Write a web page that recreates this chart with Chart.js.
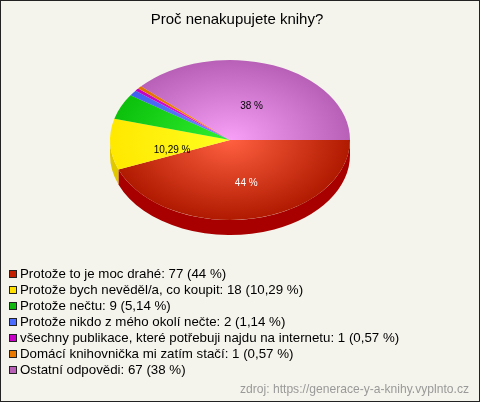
<!DOCTYPE html>
<html>
<head>
<meta charset="utf-8">
<style>
html, body { margin: 0; padding: 0; background: #f5f4ec; }
canvas { display: block; }
</style>
<script src="https://cdn.jsdelivr.net/npm/chart.js@4"></script>
</head>
<body>
<canvas id="knihyChart" width="480" height="402"></canvas>
<script>
const chartTitle = 'Proč nenakupujete knihy?';
const sourceNote = 'zdroj: https://generace-y-a-knihy.vyplnto.cz';
const categories = [
    'Protože to je moc drahé',
    'Protože bych nevěděl/a, co koupit',
    'Protože nečtu',
    'Protože nikdo z mého okolí nečte',
    'všechny publikace, které potřebuji najdu na internetu',
    'Domácí knihovnička mi zatím stačí',
    'Ostatní odpovědi'
];
const answers = [77, 18, 9, 2, 1, 1, 67];
const percentTexts = ['44', '10,29', '5,14', '1,14', '0,57', '0,57', '38'];
const sliceLabels = ['44 %', '10,29 %', '', '', '', '', '38 %'];
const labelColors = ['#ffffff', '#000000', '', '', '', '', '#000000'];

const swatchColors = ['#c41e00', '#ffe000', '#10b810', '#4c6cff', '#c800c8', '#e87800', '#b860b8'];
const innerColors = ['#ff6040', '#ffff20', '#30f030', '#6c8cff', '#f020f0', '#ff9820', '#f8a0f8'];
const outerColors = ['#b01a00', '#ffe800', '#0cc00c', '#4060f0', '#c000c0', '#e07000', '#b860b8'];
const sideColors = ['#a80000', '#e0c800', '#0a900a', '#3048b8', '#900090', '#a85000', '#8a488a'];

const squash = 2 / 3;
const depth = 15;

// posun popisku oproti stredu vysece
const labelShiftX = [5, 2, 0, 0, 0, 0, 0];
const labelShiftY = [2, 6, 0, 0, 0, 0, 2];

const pie3d = {
    id: 'pie3d',
    beforeDraw(chart) {
        const ctx = chart.ctx;
        ctx.save();
        ctx.fillStyle = '#f5f4ec';
        ctx.fillRect(0, 0, chart.width, chart.height);
        ctx.restore();
    },
    beforeDatasetsDraw(chart) {
        const ctx = chart.ctx;
        const arcs = chart.getDatasetMeta(0).data;
        const cx = arcs[0].x, cy = arcs[0].y, r = arcs[0].outerRadius;
        // bocni stena, jen spodni polovina elipsy
        arcs.forEach((arc, i) => {
            const a0 = Math.max(arc.startAngle, 0);
            const a1 = Math.min(arc.endAngle, Math.PI);
            if (a1 <= a0) return;
            ctx.beginPath();
            ctx.ellipse(cx, cy, r, r * squash, 0, a0, a1);
            ctx.ellipse(cx, cy + depth, r, r * squash, 0, a1, a0, true);
            ctx.closePath();
            ctx.fillStyle = sideColors[i];
            ctx.fill();
        });
        ctx.save();
        ctx.translate(cx, cy);
        ctx.scale(1, squash);
        ctx.translate(-cx, -cy);
    },
    afterDatasetsDraw(chart) {
        const ctx = chart.ctx;
        ctx.restore();
        const arcs = chart.getDatasetMeta(0).data;
        const cy = arcs[0].y;
        ctx.save();
        ctx.font = '10px "Liberation Sans"';
        ctx.textAlign = 'center';
        ctx.textBaseline = 'middle';
        arcs.forEach((arc, i) => {
            if (!sliceLabels[i]) return;
            const p = arc.getCenterPoint();
            ctx.fillStyle = labelColors[i];
            ctx.fillText(sliceLabels[i], p.x + labelShiftX[i], cy + (p.y - cy) * squash + 2 + labelShiftY[i]);
        });
        ctx.restore();
    },
    afterDraw(chart) {
        const ctx = chart.ctx;
        ctx.save();
        ctx.textBaseline = 'middle';

        ctx.fillStyle = '#000000';
        ctx.font = '15px "Liberation Sans"';
        ctx.textAlign = 'center';
        ctx.fillText(chartTitle, 237, 20);

        ctx.textAlign = 'left';
        ctx.font = '13.3px "Liberation Sans"';
        categories.forEach((name, i) => {
            const y = 274 + i * 16;
            ctx.fillStyle = swatchColors[i];
            ctx.fillRect(9, y - 4, 8, 8);
            ctx.strokeStyle = '#222222';
            ctx.strokeRect(9.5, y - 3.5, 7, 7);
            ctx.fillStyle = '#000000';
            ctx.fillText(name + ': ' + answers[i] + ' (' + percentTexts[i] + ' %)', 20, y + 0.5);
        });

        ctx.fillStyle = '#999999';
        ctx.font = '12.1px "Liberation Sans"';
        ctx.textAlign = 'right';
        ctx.fillText(sourceNote, 469, 390);

        ctx.strokeStyle = '#222222';
        ctx.strokeRect(0.5, 0.5, chart.width - 1, chart.height - 1);
        ctx.restore();
    }
};

function sliceGradient(c) {
    const area = c.chart.chartArea;
    if (!area) return swatchColors[c.dataIndex];
    const cx = (area.left + area.right) / 2;
    const cy = (area.top + area.bottom) / 2;
    const g = c.chart.ctx.createRadialGradient(cx, cy, 0, cx, cy, (area.right - area.left) / 2);
    g.addColorStop(0, innerColors[c.dataIndex]);
    g.addColorStop(1, outerColors[c.dataIndex]);
    return g;
}

new Chart(document.getElementById('knihyChart').getContext('2d'), {
    type: 'pie',
    data: {
        labels: categories,
        datasets: [{
            data: answers,
            backgroundColor: sliceGradient,
            borderWidth: 0
        }]
    },
    options: {
        responsive: false,
        animation: false,
        rotation: 90,
        layout: {
            padding: { left: 110, right: 130, top: 20, bottom: 142 }
        },
        plugins: {
            legend: { display: false },
            title: { display: false },
            tooltip: { enabled: false }
        }
    },
    plugins: [pie3d]
});
</script>
</body>
</html>
